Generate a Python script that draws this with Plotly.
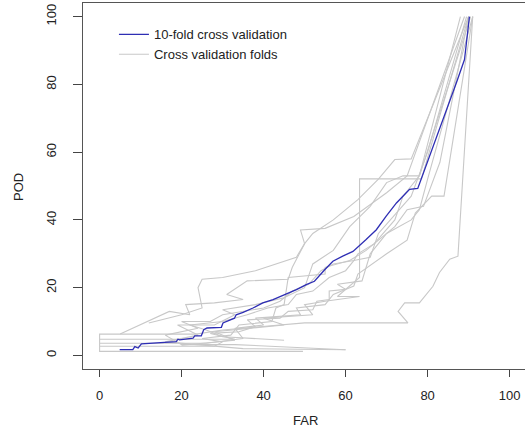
import plotly.graph_objects as go

# 10-fold cross validation mean curve
cv_far = [4.9, 8.1, 8.6, 9.4, 10.2, 14.0, 18.7, 19.1, 19.5, 22.8, 23.2, 24.8, 25.4, 26.2, 29.7, 30.1, 31.3,
          32.9, 33.3, 35.0, 37.4, 39.8, 42.3, 45.1, 48.0, 50.4, 52.4, 54.9, 56.9, 59.3, 61.8, 65.0, 67.5,
          69.9, 72.4, 74.8, 75.6, 77.6, 80.5, 83.7, 87.0, 89.0, 89.4, 90.2]
cv_pod = [1.7, 1.7, 2.6, 2.2, 3.4, 3.7, 4.1, 4.8, 4.6, 5.1, 5.8, 5.8, 7.6, 8.1, 8.3, 9.6, 10.3,
          11.0, 12.0, 12.7, 14.0, 15.5, 16.5, 17.9, 19.4, 20.9, 21.9, 25.3, 27.8, 29.3, 30.7, 34.2, 37.1,
          41.1, 45.0, 48.0, 49.0, 49.3, 58.8, 69.6, 80.4, 87.3, 92.2, 100.0]

# individual folds
fold1_far = [12, 20, 25, 24, 25, 30, 38, 44, 48, 50, 52, 57, 63, 68, 72, 76, 90]
fold1_pod = [9.6, 12, 14, 20, 22.5, 23, 25, 27.5, 29, 33, 36, 40, 46, 52, 57.8, 58, 100]
fold2_far = [5, 14, 17, 22, 21, 28, 35, 31, 36, 46, 47, 50, 49, 55, 62, 70, 75, 89]
fold2_pod = [6.3, 11.5, 13, 12, 15, 15.5, 16.5, 18, 22, 22.5, 26, 33, 37, 37.5, 41, 48, 53, 100]
fold3_far = [49.6, 0, 0, 23.5, 30, 50, 75.2, 72.8, 74.4, 78, 81.3, 82.9, 85.4, 87.4, 91]
fold3_pod = [1.2, 1.2, 6.3, 6.3, 7.5, 9.6, 9.6, 13, 15.5, 15.5, 20.4, 24.5, 28.4, 29.3, 100]
fold4_far = [20, 33, 28, 45, 40, 52, 50, 55, 63.4, 58, 63.4, 63.4, 78.5, 90]
fold4_pod = [3.0, 4.5, 7, 9, 11, 12, 15, 16, 17.4, 17.4, 23, 52.1, 52.1, 100]
fold5_far = [0, 33, 27, 34, 38, 36, 44, 46, 52, 53, 56, 56, 60, 58, 64, 65, 66, 70, 76, 78, 80, 91]
fold5_pod = [4.8, 4.8, 6.5, 7, 8.5, 10.5, 11, 13, 13.5, 16, 16.5, 19, 19.5, 21, 22, 26, 30, 36, 40, 43, 52, 100]
fold6_far = [0, 26, 35, 33, 40, 38, 49, 48, 55, 57, 62, 63, 70, 75, 77, 81, 84, 91]
fold6_pod = [3.6, 3.6, 5, 8, 9, 11, 12, 14, 15, 18, 20.5, 24, 30, 34, 42, 47, 47, 100]
fold7_far = [0, 28, 30, 25, 32, 34, 42, 43, 45, 46, 55, 55, 61, 65, 72, 75, 79, 83, 90]
fold7_pod = [2.7, 2.7, 4, 5, 6, 9, 10, 14, 15, 23, 24, 26, 28, 31, 38, 43, 44, 57, 100]
fold8_far = [60, 33, 20, 16, 24, 20, 27, 30, 40, 44, 47, 51, 54, 57, 62, 66, 68, 73, 76, 80, 89.5]
fold8_pod = [1.7, 3.2, 3.2, 6, 8, 10, 10, 12, 14, 16, 19, 21, 25, 27, 28, 29, 36, 43, 47, 60, 100]
fold9_far = [45, 30, 26, 22, 30, 36, 41, 46, 48, 52, 56, 60, 62, 63, 67, 72, 74, 78, 88]
fold9_pod = [4.5, 5.5, 7.5, 9, 10, 12, 14, 15, 18, 19, 23, 25, 28, 30, 33, 40, 47, 53, 100]
fold10_far = [60, 35, 16, 24, 19, 28, 33, 30, 38, 45, 50, 52, 57, 61, 66, 70, 74, 78, 90.5]
fold10_pod = [1.7, 2, 4, 6, 9, 9, 12, 13.5, 15, 17, 20, 27, 31, 38, 44, 51, 53, 53, 100]

folds = [(fold1_far, fold1_pod), (fold2_far, fold2_pod), (fold3_far, fold3_pod), (fold4_far, fold4_pod),
         (fold5_far, fold5_pod), (fold6_far, fold6_pod), (fold7_far, fold7_pod), (fold8_far, fold8_pod),
         (fold9_far, fold9_pod), (fold10_far, fold10_pod)]

x_ticks = [0, 20, 40, 60, 80, 100]
y_ticks = [0, 20, 40, 60, 80, 100]

GRAY = "#c8c8c8"
BLUE = "#2e2eb4"
FONT = "Liberation Sans, Arial, Helvetica, sans-serif"

fig = go.Figure()
for i, (fx, fy) in enumerate(folds):
    fig.add_trace(go.Scatter(x=fx, y=fy, mode="lines", line=dict(color=GRAY, width=1.1),
                             name="Cross validation folds", legendgroup="folds",
                             showlegend=(i == 0), legendrank=2))
fig.add_trace(go.Scatter(x=cv_far, y=cv_pod, mode="lines", line=dict(color=BLUE, width=1.3),
                         name="10-fold cross validation", legendrank=1))

# page is wider than the window so the right border falls outside it, as in the reference
W, H = 532, 447
ml, mr, mt, mb = 83, 0, 3, 78
PX_PER_UNIT = 4.1
plot_w = W - ml - mr
x_lo = -4.05
x_hi = x_lo + plot_w / PX_PER_UNIT
plot_h = H - mt - mb

fig.update_layout(
    width=W, height=H,
    margin=dict(l=ml, r=mr, t=mt, b=mb, autoexpand=False),
    paper_bgcolor="white", plot_bgcolor="white",
    font=dict(family=FONT, size=13, color="#222222"),
    showlegend=True,
    legend=dict(x=0.07 * 442 / plot_w, y=0.955, xanchor="left", yanchor="top", bgcolor="rgba(0,0,0,0)",
                font=dict(size=13, color="#222222"), tracegroupgap=0, itemwidth=30,
                traceorder="normal"),
    xaxis=dict(range=[x_lo, x_hi], tickvals=x_ticks, ticks="outside", ticklen=7,
               tickcolor="#444", showgrid=False, zeroline=False, showline=True,
               linecolor="#555", linewidth=1.2, mirror=True, ticklabelstandoff=7,
               tickfont=dict(size=13), automargin=False),
    yaxis=dict(range=[-4, 104], tickvals=y_ticks, ticks="outside", ticklen=9,
               tickcolor="#444", showgrid=False, zeroline=False, showline=True,
               linecolor="#555", linewidth=1.2, mirror=False, tickangle=-90,
               ticklabelstandoff=12, tickfont=dict(size=13), automargin=False),
    annotations=[
        dict(text="FAR", xref="paper", yref="paper", x=(305 - ml) / plot_w, y=(369 - 420) / plot_h,
             showarrow=False, xanchor="center", yanchor="middle", font=dict(size=13)),
        dict(text="POD", xref="paper", yref="paper", x=(18 - ml) / plot_w, y=(369 - 187) / plot_h,
             showarrow=False, xanchor="center", yanchor="middle", textangle=-90, font=dict(size=13)),
    ],
)

fig.write_html("out.html", config={"displayModeBar": False},
               post_script="document.body.style.margin='0px';document.body.style.overflow='hidden';")
